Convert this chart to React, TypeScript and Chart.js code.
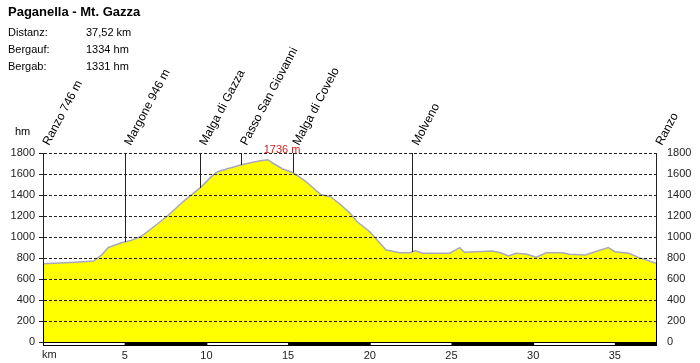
import React, { useEffect, useRef } from 'react';
import { Chart, registerables } from 'chart.js';
Chart.register(...registerables);

const TITLE = 'Paganella - Mt. Gazza';
const INFO_LABELS = ['Distanz:', 'Bergauf:', 'Bergab:'];
const INFO_VALUES = ['37,52 km', '1334 hm', '1331 hm'];

const KM = [0, 1.0, 2.0, 3.1, 3.6, 4.0, 4.8, 5.4, 6.0, 6.8, 7.65, 8.6, 9.7, 10.3, 10.7, 11.4, 12.1, 12.9, 13.4, 13.75, 14.1, 14.65, 15.3, 16.0, 17.0, 17.6, 18.2, 18.8, 19.2, 20.0, 21.0, 21.85, 22.45, 22.8, 23.25, 24.9, 25.5, 25.8, 26.5, 27.5, 28.0, 28.5, 28.95, 29.55, 30.2, 30.8, 31.8, 32.2, 33.2, 33.8, 34.6, 35.0, 35.85, 36.45, 37.52];
const ELEV = [746, 752, 760, 772, 830, 900, 945, 968, 1005, 1100, 1205, 1340, 1480, 1575, 1622, 1655, 1686, 1715, 1728, 1736, 1700, 1650, 1612, 1540, 1405, 1384, 1310, 1225, 1150, 1050, 876, 850, 850, 868, 845, 845, 898, 854, 860, 867, 850, 820, 845, 838, 808, 850, 850, 835, 828, 860, 900, 860, 845, 806, 749];

const MARKER_KM = [0, 5.0, 9.6, 12.1, 15.3, 22.6, 37.52];
const MARKER_LABELS = ['Ranzo 746 m', 'Margone 946 m', 'Malga di Gazza', 'Passo San Giovanni', 'Malga di Covelo', 'Molveno', 'Ranzo'];

const PEAK_KM = 13.75;
const PEAK_LABEL = '1736 m';

const X_MAX = 37.52;
const X_STEP = 5;
const Y_MAX = 1800;
const Y_STEP = 200;

const FONT = 'Arial, "Liberation Sans", sans-serif';

function elevAt(km: number): number {
  if (km <= KM[0]) return ELEV[0];
  for (let i = 1; i < KM.length; i++) {
    if (km <= KM[i]) {
      const t = (km - KM[i - 1]) / (KM[i] - KM[i - 1]);
      return ELEV[i - 1] + t * (ELEV[i] - ELEV[i - 1]);
    }
  }
  return ELEV[ELEV.length - 1];
}

const overlay = {
  id: 'overlay',
  afterDraw(chart: any) {
    const ctx = chart.ctx as CanvasRenderingContext2D;
    const xs = chart.scales.x;
    const ys = chart.scales.y;
    const area = chart.chartArea;
    ctx.save();

    // title & info
    ctx.fillStyle = '#000';
    ctx.textAlign = 'left';
    ctx.textBaseline = 'alphabetic';
    ctx.font = 'bold 13px ' + FONT;
    ctx.fillText(TITLE, 8, 16);
    ctx.font = '11px ' + FONT;
    INFO_LABELS.forEach((l, i) => {
      ctx.fillText(l, 8, 36 + i * 17);
      ctx.fillText(INFO_VALUES[i], 86, 36 + i * 17);
    });
    ctx.fillText('hm', 15, 135);
    ctx.fillStyle = '#222';
    ctx.fillText('km', 42, 358);

    // marker lines
    const top = ys.getPixelForValue(Y_MAX);
    ctx.strokeStyle = '#222';
    ctx.lineWidth = 1;
    MARKER_KM.forEach((km) => {
      const x = Math.round(xs.getPixelForValue(km)) + 0.5;
      const yb = ys.getPixelForValue(elevAt(km));
      ctx.beginPath();
      ctx.moveTo(x, top);
      ctx.lineTo(x, yb);
      ctx.stroke();
    });

    // rotated labels
    ctx.fillStyle = '#000';
    ctx.font = '12px ' + FONT;
    MARKER_KM.forEach((km, i) => {
      const x = xs.getPixelForValue(km) + 6;
      ctx.save();
      ctx.translate(x, 146);
      ctx.rotate(-62 * Math.PI / 180);
      ctx.fillText(MARKER_LABELS[i], 0, 0);
      ctx.restore();
    });

    // peak label
    ctx.fillStyle = '#cc2222';
    ctx.font = '11px ' + FONT;
    ctx.fillText(PEAK_LABEL, xs.getPixelForValue(PEAK_KM) - 4, 153);

    // distance bar
    const by = Math.round(area.bottom);
    ctx.fillStyle = '#000';
    ctx.fillRect(area.left, by, area.right - area.left + 1, 4);
    ctx.fillStyle = '#fff';
    for (let s = 0, k = 0; s < X_MAX; s += X_STEP, k++) {
      if (k % 2 === 0) {
        const x0 = xs.getPixelForValue(s);
        const x1 = xs.getPixelForValue(Math.min(s + X_STEP, X_MAX));
        ctx.fillRect(x0 + 1, by + 1, x1 - x0 - 1, 2);
      }
    }
    ctx.restore();
  },
};

export default function App() {
  const ref = useRef<HTMLCanvasElement>(null);
  useEffect(() => {
    const canvas = ref.current!;
    const chart = new Chart(canvas, {
      type: 'line',
      data: {
        datasets: [
          {
            data: KM.map((k, i) => ({ x: k, y: ELEV[i] })),
            fill: 'origin',
            backgroundColor: '#ffff00',
            borderColor: '#a8a8bc',
            borderWidth: 1.5,
            pointRadius: 0,
            tension: 0,
          },
        ],
      },
      options: {
        responsive: false,
        animation: false,
        events: [],
        layout: { padding: { top: 153, left: 0, right: 0, bottom: 0 } },
        plugins: { legend: { display: false }, tooltip: { enabled: false }, title: { display: false } },
        scales: {
          x: {
            type: 'linear',
            min: 0,
            max: X_MAX,
            afterFit: (s: any) => { s.height = 21; },
            grid: { display: false, drawTicks: false },
            border: { display: false },
            ticks: {
              stepSize: X_STEP,
              includeBounds: false,
              autoSkip: false,
              maxRotation: 0,
              padding: 7,
              color: '#222',
              font: { family: FONT, size: 11 },
              callback: (v: any) => (v !== 0 && v % X_STEP === 0 ? String(v) : ''),
            },
          },
          y: {
            position: 'left',
            min: 0,
            max: Y_MAX,
            afterFit: (s: any) => { s.width = 43; },
            grid: {
              z: 1,
              color: '#222',
              lineWidth: 1,
              tickLength: 4,
              tickBorderDash: [],
              tickColor: '#222',
            },
            border: { display: true, color: '#000', width: 1, dash: [3, 2], z: 2 },
            ticks: {
              stepSize: Y_STEP,
              padding: 4,
              color: '#222',
              font: { family: FONT, size: 11 },
              callback: (v: any) => String(v),
            },
          },
          y2: {
            position: 'right',
            min: 0,
            max: Y_MAX,
            afterFit: (s: any) => { s.width = 44; },
            grid: { display: false, drawTicks: false },
            border: { display: true, color: '#000', width: 1, z: 2 },
            ticks: {
              stepSize: Y_STEP,
              padding: 11,
              color: '#222',
              font: { family: FONT, size: 11 },
              callback: (v: any) => String(v),
            },
          },
        },
      } as any,
      plugins: [overlay],
    });
    return () => chart.destroy();
  }, []);
  return (
    <div style={{ position: 'absolute', left: 0, top: 0, width: 700, height: 363, background: '#fff' }}>
      <canvas ref={ref} width={700} height={363} />
    </div>
  );
}
